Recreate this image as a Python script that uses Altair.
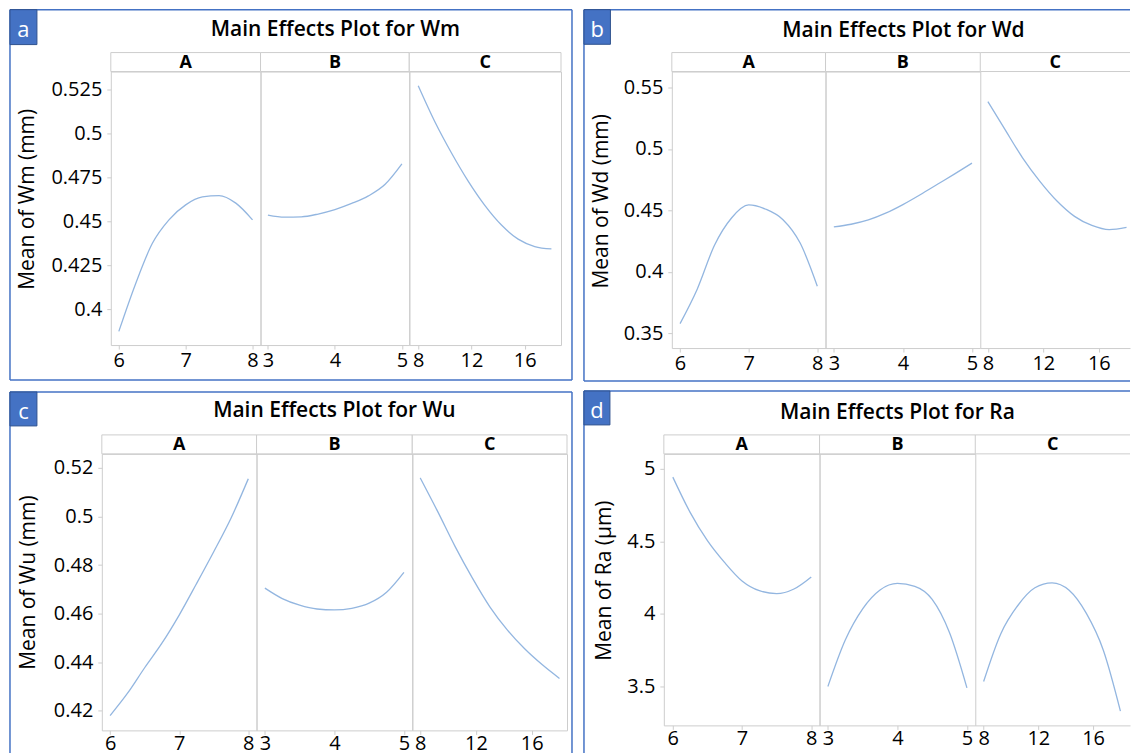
import altair as alt
import pandas as pd

# ---------------- data ----------------
FACTORS = ["A", "B", "C"]
A_X = [6, 6.25, 6.5, 6.75, 7, 7.25, 7.5, 7.75, 8]
B_X = [3, 3.25, 3.5, 3.75, 4, 4.25, 4.5, 4.75, 5]
C_X = [8, 9.25, 10.5, 11.75, 13, 14.25, 15.5, 16.75, 18]
A_TICKS = [6, 7, 8]
B_TICKS = [3, 4, 5]
C_TICKS = [8, 12, 16]

WM_A = [0.3875, 0.4145, 0.4375, 0.4510, 0.4595, 0.4640, 0.4648, 0.4605, 0.4510]
WM_B = [0.4537, 0.4525, 0.4527, 0.4543, 0.4568, 0.4603, 0.4646, 0.4712, 0.4828]
WM_C = [0.5273, 0.5068, 0.4890, 0.4730, 0.4592, 0.4480, 0.4400, 0.4358, 0.4344]

WD_A = [0.3580, 0.3860, 0.4215, 0.4439, 0.4545, 0.4510, 0.4425, 0.4235, 0.3884]
WD_B = [0.4366, 0.4388, 0.4423, 0.4478, 0.4548, 0.4628, 0.4713, 0.4798, 0.4885]
WD_C = [0.5386, 0.5155, 0.4928, 0.4737, 0.4575, 0.4452, 0.4378, 0.4344, 0.4362]

WU_A = [0.4180, 0.4271, 0.4377, 0.4478, 0.4594, 0.4723, 0.4855, 0.4993, 0.5155]
WU_B = [0.4705, 0.4662, 0.4635, 0.4619, 0.4615, 0.4622, 0.4643, 0.4688, 0.4770]
WU_C = [0.5159, 0.5021, 0.4877, 0.4746, 0.4628, 0.4533, 0.4455, 0.4390, 0.4333]

RA_A = [4.943, 4.700, 4.505, 4.353, 4.227, 4.160, 4.140, 4.172, 4.255]
RA_B = [3.500, 3.820, 4.035, 4.165, 4.210, 4.190, 4.100, 3.870, 3.490]
RA_C = [3.534, 3.862, 4.058, 4.180, 4.214, 4.163, 4.005, 3.750, 3.330]

WM_YTICKS = [0.4, 0.425, 0.45, 0.475, 0.5, 0.525]
WD_YTICKS = [0.35, 0.4, 0.45, 0.5, 0.55]
WU_YTICKS = [0.42, 0.44, 0.46, 0.48, 0.5, 0.52]
RA_YTICKS = [3.5, 4, 4.5, 5]

LETTERS = ["a", "b", "c", "d"]
TITLES = ["Main Effects Plot for Wm", "Main Effects Plot for Wd",
          "Main Effects Plot for Wu", "Main Effects Plot for Ra"]
Y_TITLES = ["Mean of Wm (mm)", "Mean of Wd (mm)", "Mean of Wu (mm)", "Mean of Ra (µm)"]

# ---------------- styles ----------------
FONT = "Open Sans"
LINE_COLOR = "#93B6E0"
FRAME = "#CDCDCD"
BLUE = "#4472C4"
BLUE_DARK = "#2F528F"
TXT = "#000000"
SH = 19  # strip height
PAGE_W, PAGE_H, ROW_SPLIT = 1133, 753, 384

# ---------------- layout (pixel geometry of each panel) ----------------
PANELS = [
    dict(series=[(A_X, WM_A), (B_X, WM_B), (C_X, WM_C)], yticks=WM_YTICKS,
         ox=110, oy=70, widths=[150, 149, 152], height=274, ydom=[0.3797, 0.5354],
         xdoms=[[5.88, 8.12], [2.89, 5.11], [7.33, 18.72]],
         border=(9, 8, 572, 379), sides="ltrb", box=(9, 8, 36, 43),
         title_xy=(335, 34), ytitle_xy=(27, 197.5), open_last=False,
         frame=(0, 0, PAGE_W, ROW_SPLIT), xpad=1),
    dict(series=[(A_X, WD_A), (B_X, WD_B), (C_X, WD_C)], yticks=WD_YTICKS,
         ox=672, oy=70, widths=[154, 155, 150], height=277, ydom=[0.3381, 0.5630],
         xdoms=[[5.88, 8.12], [2.88, 5.12], [7.45, 18.25]],
         border=(584, 8, 1131, 380), sides="ltb", box=(584, 8, 610.5, 42.7),
         title_xy=(904, 35.5), ytitle_xy=(602, 199.5), open_last=True, frame=None, xpad=1),
    dict(series=[(A_X, WU_A), (B_X, WU_B), (C_X, WU_C)], yticks=WU_YTICKS,
         ox=101, oy=451, widths=[155, 156, 155], height=277, ydom=[0.4119, 0.5258],
         xdoms=[[5.88, 8.12], [2.88, 5.12], [7.43, 18.54]],
         border=(9, 389, 572, 752), sides="ltr", box=(9, 389, 36, 423),
         title_xy=(334, 414), ytitle_xy=(28, 579.5), open_last=False,
         frame=(0, ROW_SPLIT, PAGE_W, PAGE_H), xpad=-1),
    dict(series=[(A_X, RA_A), (B_X, RA_B), (C_X, RA_C)], yticks=RA_YTICKS,
         ox=664, oy=451, widths=[156, 156, 155], height=272, ydom=[3.2316, 5.1032],
         xdoms=[[5.87, 8.12], [2.88, 5.12], [7.39, 18.70]],
         border=(584, 388, 1131, 752), sides="lt", box=(584, 388, 610, 422),
         title_xy=(898, 416), ytitle_xy=(605, 577.5), open_last=True, frame=None, xpad=-1),
]
XTICKS = [A_TICKS, B_TICKS, C_TICKS]

ONE = pd.DataFrame({"k": [0]})


def hrule(y, x1, x2, color, sw):
    return alt.Chart(ONE).mark_rule(color=color, strokeWidth=sw).encode(
        x=alt.value(x1), x2=alt.value(x2), y=alt.value(y))


def vrule(x, y1, y2, color, sw):
    return alt.Chart(ONE).mark_rule(color=color, strokeWidth=sw).encode(
        x=alt.value(x), y=alt.value(y1), y2=alt.value(y2))


def decorations(P, idx):
    ox, oy = P["ox"], P["oy"]
    l, t, r, b = P["border"]
    L = []
    if P["frame"] is not None:
        fx1, fy1, fx2, fy2 = P["frame"]
        L.append(alt.Chart(ONE).mark_rect(fill="transparent", strokeOpacity=0).encode(
            x=alt.value(fx1 - ox), x2=alt.value(fx2 - ox),
            y=alt.value(fy1 - oy), y2=alt.value(fy2 - oy)))
    s = P["sides"]
    if "t" in s:
        L.append(hrule(t - oy, l - ox, r - ox, BLUE, 1.5))
    if "b" in s:
        L.append(hrule(b - oy, l - ox, r - ox, BLUE, 1.5))
    if "l" in s:
        L.append(vrule(l - ox, t - oy, b - oy, BLUE, 1.5))
    if "r" in s:
        L.append(vrule(r - ox, t - oy, b - oy, BLUE, 1.5))
    bx1, by1, bx2, by2 = P["box"]
    L.append(alt.Chart(ONE).mark_rect(fill=BLUE, stroke=BLUE_DARK, strokeWidth=1).encode(
        x=alt.value(bx1 - ox), x2=alt.value(bx2 - ox), y=alt.value(by1 - oy), y2=alt.value(by2 - oy)))
    L.append(alt.Chart(ONE).mark_text(font=FONT, fontSize=22, color="white", align="center",
                                      baseline="alphabetic").encode(
        x=alt.value((bx1 + bx2) / 2 - ox), y=alt.value(by1 + 27 - oy), text=alt.value(LETTERS[idx])))
    tx, ty = P["title_xy"]
    L.append(alt.Chart(ONE).mark_text(font=FONT, fontSize=21, fontWeight=600, color=TXT,
                                      align="center", baseline="alphabetic").encode(
        x=alt.value(tx - ox), y=alt.value(ty - oy), text=alt.value(TITLES[idx])))
    return L


def make_cell(P, idx, fi):
    xs, ys = P["series"][fi]
    width = P["widths"][fi]
    h = P["height"]
    first = fi == 0
    open_right = P["open_last"] and fi == 2
    df = pd.DataFrame({"x": xs, "y": ys})

    xaxis = alt.Axis(values=XTICKS[fi], format=".4~g", title=None, grid=False,
                     domain=open_right, domainColor=FRAME, tickSize=4, tickColor=FRAME,
                     labelPadding=P["xpad"], labelFontSize=20, labelFont=FONT, labelColor=TXT,
                     labelOverlap=False, labelFlush=False)
    yscale = alt.Scale(domain=P["ydom"], nice=False, zero=False)
    if first:
        ytx, tyc = P["ytitle_xy"]
        yaxis = alt.Axis(values=P["yticks"], format=".4~g", title=Y_TITLES[idx], grid=False,
                         domain=False, tickSize=4, tickColor=FRAME, labelPadding=5,
                         labelFontSize=20, labelFont=FONT, labelColor=TXT,
                         labelOverlap=False, labelFlush=False,
                         titleFont=FONT, titleFontSize=21, titleFontWeight="normal",
                         titleColor=TXT, titleX=ytx - P["ox"], titleY=tyc - P["oy"],
                         titleAngle=270, titleBaseline="middle", titleAlign="center")
        yenc = alt.Y("y:Q", scale=yscale, axis=yaxis)
    else:
        yenc = alt.Y("y:Q", scale=yscale, axis=None)

    line = alt.Chart(df).mark_line(color=LINE_COLOR, strokeWidth=1.3, interpolate="monotone").encode(
        x=alt.X("x:Q", scale=alt.Scale(domain=P["xdoms"][fi], nice=False, zero=False), axis=xaxis),
        y=yenc)

    layers = []
    if open_right:
        layers.append(hrule(-SH, 0, width, FRAME, 1))
        layers.append(hrule(0, 0, width, FRAME, 1))
    else:
        layers.append(alt.Chart(ONE).mark_rect(fill="white", stroke=FRAME, strokeWidth=1).encode(
            x=alt.value(0), x2=alt.value(width), y=alt.value(-SH), y2=alt.value(0)))
    layers.append(alt.Chart(ONE).mark_text(font=FONT, fontSize=18, fontWeight="bold", color=TXT,
                                           align="center", baseline="middle").encode(
        x=alt.value(width / 2), y=alt.value(-SH / 2 + 0.5), text=alt.value(FACTORS[fi])))
    layers.append(line)
    if first:
        layers += decorations(P, idx)
    ch = alt.layer(*layers).properties(width=width, height=h)
    if open_right:
        ch = ch.properties(view=alt.ViewBackground(stroke="transparent"))
    return ch


def gap(w):
    return alt.Chart(ONE).mark_point(opacity=0, size=1).encode(
        x=alt.value(0), y=alt.value(0)).properties(
        width=w, height=1, view=alt.ViewBackground(stroke="transparent"))


cells = [[make_cell(P, i, f) for f in range(3)] for i, P in enumerate(PANELS)]

row1 = alt.hconcat(gap(9), *cells[0], gap(111), *cells[1], spacing=0, bounds="flush")
row2 = alt.hconcat(*cells[2], gap(97), *cells[3], spacing=0, bounds="flush")

chart = alt.vconcat(row1, row2, spacing=0).properties(
    padding={"left": 0, "top": 0, "right": 0, "bottom": 0},
    background="white",
).configure_view(stroke=FRAME, strokeWidth=1)

chart.save("out.html", embed_options={"renderer": "svg", "actions": False})
